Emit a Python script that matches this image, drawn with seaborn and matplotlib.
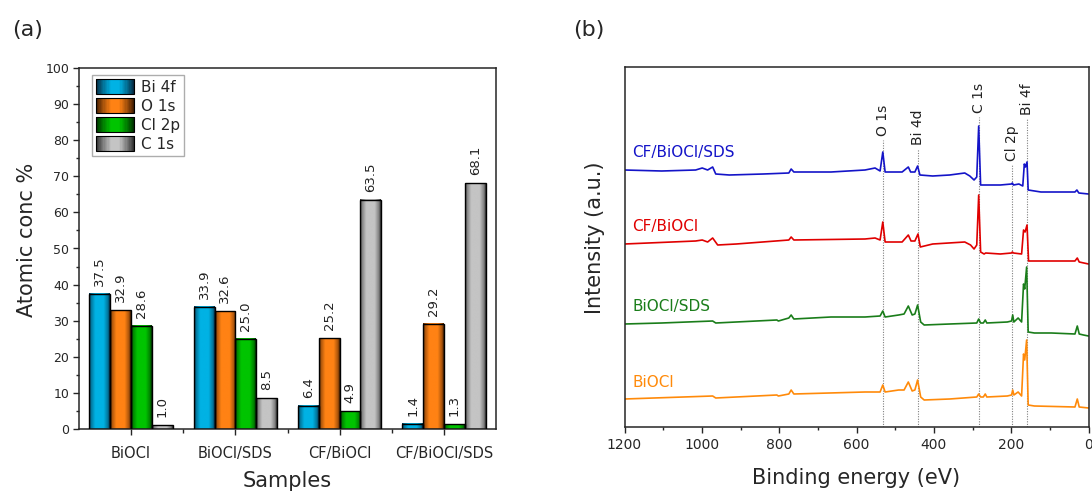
import numpy as np
import pandas as pd
import matplotlib
matplotlib.use("Agg")
import matplotlib.pyplot as plt
import seaborn as sns
from matplotlib.colors import LinearSegmentedColormap, to_rgb
from matplotlib.patches import Rectangle, Patch
from matplotlib.legend_handler import HandlerBase
from matplotlib.ticker import MultipleLocator, FixedLocator

# ---------------- (a) atomic concentrations ----------------
samples = ["BiOCl", "BiOCl/SDS", "CF/BiOCl", "CF/BiOCl/SDS"]
elements = ["Bi 4f", "O 1s", "Cl 2p", "C 1s"]
bi4f = [37.5, 33.9, 6.4, 1.4]
o1s = [32.9, 32.6, 25.2, 29.2]
cl2p = [28.6, 25.0, 4.9, 1.3]
c1s = [1.0, 8.5, 63.5, 68.1]

bright = ["#00b2e4", "#ff8214", "#00c400", "#c4c4c4"]
dark = ["#06243a", "#3a1800", "#002a00", "#2a2a2a"]

# ---------------- (b) XPS survey spectra ----------------
e_cfs = [1200, 1104, 1016, 999, 985, 972, 964, 929, 841, 775, 769, 762, 666, 578, 552, 539,
         532, 526, 482, 466, 460, 449, 442, 436, 403, 359, 320, 307, 296, 289, 284, 279,
         228, 199, 197, 194, 180, 170, 166, 163, 159, 156, 123, 35, 30, 25, 0]
i_cfs = [257, 256, 257, 259, 257, 260, 253, 252, 253, 254, 258, 255, 255, 257, 259, 256,
         275, 255, 255, 260, 255, 255, 261, 252, 251, 252, 254, 251, 247, 250, 301, 242,
         242, 243, 244, 242, 243, 241, 263, 260, 265, 237, 235, 235, 237, 234, 233]

e_cf = [1200, 1016, 999, 985, 972, 959, 911, 775, 769, 762, 578, 552, 539, 532, 526, 482,
        466, 459, 449, 441, 435, 403, 320, 305, 296, 289, 284, 279, 270, 266, 228, 199,
        197, 194, 173, 168, 164, 159, 155, 123, 35, 29, 24, 0]
i_cf = [183, 186, 187, 185, 189, 182, 183, 187, 190, 187, 188, 189, 187, 205, 185, 185,
        192, 186, 186, 193, 180, 183, 185, 182, 178, 182, 232, 175, 173, 174, 173, 174,
        175, 174, 173, 197, 195, 202, 166, 166, 166, 169, 165, 163]

e_sds = [1200, 1104, 972, 964, 806, 802, 775, 769, 762, 666, 578, 539, 532, 526, 491, 477,
         466, 456, 449, 442, 434, 425, 359, 289, 284, 279, 272, 267, 263, 210, 199, 196,
         193, 182, 173, 168, 165, 160, 156, 140, 96, 35, 29, 24, 13, 0]
i_sds = [103, 104, 106, 104, 107, 106, 109, 112, 108, 110, 110, 111, 116, 110, 112, 113,
         121, 112, 113, 122, 105, 102, 103, 104, 108, 104, 104, 107, 104, 105, 106, 112,
         105, 109, 105, 143, 138, 160, 95, 94, 94, 93, 101, 93, 92, 91]

e_bio = [1200, 972, 964, 806, 802, 775, 769, 762, 578, 539, 532, 526, 491, 477, 466, 456,
         449, 442, 434, 425, 359, 289, 284, 279, 272, 267, 263, 210, 199, 196, 193, 182,
         173, 168, 165, 160, 156, 140, 35, 29, 24, 0]
i_bio = [28, 31, 29, 32, 31, 33, 37, 33, 35, 35, 42, 35, 37, 37, 45, 36,
         37, 47, 30, 27, 28, 30, 33, 30, 30, 33, 30, 31, 32, 37, 32, 35,
         31, 73, 67, 87, 22, 21, 20, 28, 20, 19]

spec_names = ["CF/BiOCl/SDS", "CF/BiOCl", "BiOCl/SDS", "BiOCl"]
spec_colors = ["#1414c8", "#e00000", "#1a7d1a", "#ff8a0a"]
spec_label_y = [275, 200, 121, 45]

peak_names = ["O 1s", "Bi 4d", "C 1s", "Cl 2p", "Bi 4f"]
peak_pos = [532, 441, 283, 199, 160]
peak_top = [287, 278, 310, 262, 308]

# ---------------- styling ----------------
sns.set_style("ticks")
plt.rcParams["font.family"] = ["DejaVu Sans"]
plt.rcParams["axes.linewidth"] = 1.1

fig = plt.figure(figsize=(10.92, 4.98), dpi=100)
axa = fig.add_axes([79 / 1092, 69 / 498, 417 / 1092, 361 / 498])
axb = fig.add_axes([624.5 / 1092, 71 / 498, 464 / 1092, 360 / 498])


def bar_cmap(d, b, edge_frac, flat):
    d, b = np.array(to_rgb(d)), np.array(to_rgb(b))
    mid = 0.45 * d + 0.55 * b
    return LinearSegmentedColormap.from_list(
        "g", [(0, d), (edge_frac, mid), (flat, b), (1 - flat, b), (1 - edge_frac, mid), (1, d)])


bar_maps = [bar_cmap(d, b, 0.09, 0.3) for d, b in zip(dark, bright)]
leg_maps = [bar_cmap(d, b, 0.2, 0.4) for d, b in zip(dark, bright)]

df = pd.DataFrame({
    "Samples": np.repeat(samples, len(elements)),
    "Element": elements * len(samples),
    "Value": np.ravel(np.column_stack([bi4f, o1s, cl2p, c1s])),
})

sns.barplot(data=df, x="Samples", y="Value", hue="Element", hue_order=elements,
            palette=bright, saturation=1, width=0.8, errorbar=None, legend=False,
            edgecolor="black", linewidth=1.0, ax=axa)

grad = np.linspace(0, 1, 256).reshape(1, -1)
bright_rgb = [np.round(to_rgb(c), 3) for c in bright]
for p in list(axa.patches):
    fc = np.round(p.get_facecolor()[:3], 3)
    k = int(np.argmin([np.abs(fc - c).sum() for c in bright_rgb]))
    x0, w, h = p.get_x(), p.get_width(), p.get_height()
    axa.imshow(grad, cmap=bar_maps[k], extent=[x0, x0 + w, 0, h], aspect="auto",
               zorder=2, interpolation="bilinear")
    p.set_facecolor("none")
    p.set_zorder(3)
    axa.text(x0 + w / 2, h + 2.2, f"{h:.1f}", rotation=90, ha="center", va="bottom",
             fontsize=9.5, color="#222222")

axa.set_xlim(-0.5, 3.5)
axa.set_ylim(0, 100)
axa.yaxis.set_major_locator(MultipleLocator(10))
axa.yaxis.set_minor_locator(MultipleLocator(5))
axa.xaxis.set_minor_locator(FixedLocator([0.5, 1.5, 2.5]))
axa.tick_params(axis="y", which="major", length=4, width=1, labelsize=9, pad=3)
axa.tick_params(axis="y", which="minor", length=2.5, width=1)
axa.tick_params(axis="x", which="major", length=4, width=1, labelsize=10.5, pad=8)
axa.tick_params(axis="x", which="minor", length=3, width=1)
for s in axa.spines.values():
    s.set_visible(True)
    s.set_linewidth(1.1)
axa.set_xlabel("Samples", fontsize=15)
axa.set_ylabel("Atomic conc %", fontsize=15)
axa.xaxis.set_label_coords(0.5, -0.115)
axa.yaxis.set_label_coords(-0.10, 0.525)


class GradientHandler(HandlerBase):
    def __init__(self, cmap):
        super().__init__()
        self.cmap = cmap

    def create_artists(self, legend, orig_handle, xdescent, ydescent, width, height,
                       fontsize, trans):
        n = 30
        arts = []
        for i in range(n):
            arts.append(Rectangle((-xdescent + width * i / n, -ydescent), width / n * 1.02,
                                  height, facecolor=self.cmap((i + 0.5) / n),
                                  edgecolor="none", transform=trans))
        arts.append(Rectangle((-xdescent, -ydescent), width, height, facecolor="none",
                              edgecolor="black", lw=0.8, transform=trans))
        return arts


handles = [Patch(facecolor=c) for c in bright]
leg = axa.legend(handles, elements, loc="upper left", bbox_to_anchor=(0.0305, 0.981),
                 borderaxespad=0, fontsize=11, handlelength=2.55, handleheight=1.2,
                 labelspacing=0.2, handletextpad=0.4, borderpad=0.25, fancybox=False,
                 frameon=True, edgecolor="#999999",
                 handler_map={h: GradientHandler(m) for h, m in zip(handles, leg_maps)})
leg.get_frame().set_linewidth(1.0)

# ---------------- (b) ----------------
spectra = [(e_cfs, i_cfs), (e_cf, i_cf), (e_sds, i_sds), (e_bio, i_bio)]
for (E, I), col in zip(spectra, spec_colors):
    sns.lineplot(x=E, y=I, ax=axb, color=col, lw=1.2, sort=False, estimator=None)

for name, col, y in zip(spec_names, spec_colors, spec_label_y):
    axb.text(1179, y, name, color=col, fontsize=11, ha="left", va="center")

for name, x, top in zip(peak_names, peak_pos, peak_top):
    axb.plot([x, x], [0, top], ls=(0, (1, 1.3)), color="#808080", lw=0.8, zorder=0)
    axb.text(x, top + 4, name, rotation=90, ha="center", va="bottom", fontsize=10,
             color="#222222")

axb.set_xlim(1200, 0)
axb.set_ylim(0, 360)
axb.set_yticks([])
axb.xaxis.set_major_locator(MultipleLocator(200))
axb.xaxis.set_minor_locator(MultipleLocator(100))
axb.tick_params(axis="x", which="major", length=4, width=1, labelsize=10, pad=4)
axb.tick_params(axis="x", which="minor", length=2.5, width=1)
for s in axb.spines.values():
    s.set_visible(True)
    s.set_linewidth(1.1)
axb.set_xlabel("Binding energy (eV)", fontsize=15)
axb.set_ylabel("Intensity (a.u.)", fontsize=15)
axb.xaxis.set_label_coords(0.5, -0.114)
axb.yaxis.set_label_coords(-0.043, 0.525)

fig.text(12 / 1092, 1 - 30 / 498, "(a)", fontsize=16, ha="left", va="center")
fig.text(573 / 1092, 1 - 30 / 498, "(b)", fontsize=16, ha="left", va="center")

fig.savefig("out.png", dpi=100)
